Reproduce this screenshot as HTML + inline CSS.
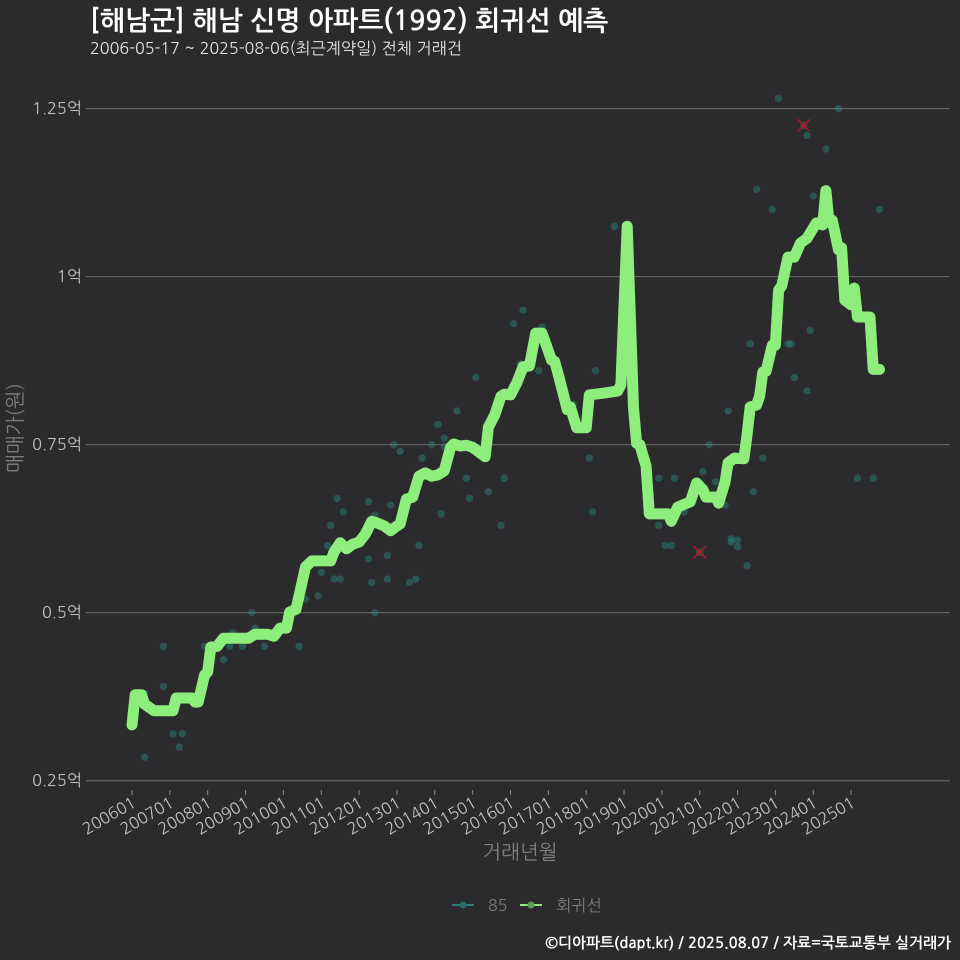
<!DOCTYPE html>
<html lang="ko">
<head>
<meta charset="utf-8">
<title>해남 신명 아파트 회귀선 예측</title>
<style>
html,body{margin:0;padding:0;background:#2b2b2d;}
svg{display:block;font-family:"NanumGothic","Noto Sans CJK KR","Liberation Sans",sans-serif;}
</style>
</head>
<body>
<svg id="chart" xmlns="http://www.w3.org/2000/svg" width="960" height="960" viewBox="0 0 960 960">
  <rect x="0" y="0" width="960" height="960" fill="#2b2b2d"/>
  <text x="90" y="30" font-size="26.75" font-weight="700" fill="#ffffff">[해남군] 해남 신명 아파트(1992) 회귀선 예측</text>
  <text x="90" y="54" font-size="16.15" fill="#e6e6e6">2006-05-17 ~ 2025-08-06(최근계약일) 전체 거래건</text>
  <g id="grid"></g>
  <g id="yLabels"></g>
  <g id="xAxis"></g>
  <g id="points"></g>
  <g id="outliers"></g>
  <path id="regLine" fill="none" stroke="#8dee7c" stroke-width="11" stroke-linejoin="round" stroke-linecap="round"/>
  <text transform="translate(22,428) rotate(-90)" text-anchor="middle" font-size="20" fill="#7f7f7f">매매가(원)</text>
  <text x="520" y="859" text-anchor="middle" font-size="20" fill="#7f7f7f">거래년월</text>
  <g>
    <line x1="452" y1="905" x2="474" y2="905" stroke="#2c7f7a" stroke-width="2"/>
    <circle cx="463" cy="905" r="3.5" fill="#2f6b66"/>
    <text x="488" y="911" font-size="16" fill="#7f7f7f">85</text>
  </g>
  <g>
    <line x1="520" y1="905" x2="542" y2="905" stroke="#8dee7c" stroke-width="2"/>
    <circle cx="531" cy="905" r="3.5" fill="#5f9c57"/>
    <text x="556.5" y="911" font-size="16" fill="#7f7f7f">회귀선</text>
  </g>
  <text x="951" y="948" text-anchor="end" font-size="14.9" font-weight="700" fill="#ffffff">©디아파트(dapt.kr) / 2025.08.07 / 자료=국토교통부 실거래가</text>
</svg>
<script>
const yTicks = [0.25, 0.5, 0.75, 1, 1.25];
const yTickLabels = ["0.25억", "0.5억", "0.75억", "1억", "1.25억"];
const xTickMonths = [0, 12, 24, 36, 48, 60, 72, 84, 96, 108, 120, 132, 144, 156, 168, 180, 192, 204, 216, 228];
const xTickLabels = ["200601", "200701", "200801", "200901", "201001", "201101", "201201", "201301", "201401", "201501", "201601", "201701", "201801", "201901", "202001", "202101", "202201", "202301", "202401", "202501"];

const lineMonths = [0, 1, 3, 4, 7, 13, 14, 19, 20, 21, 23, 24, 25, 27, 29, 37, 39, 43, 45, 47, 49, 50, 52, 55, 57, 63, 64, 66, 68, 70, 72, 74, 76, 78, 80, 82, 84, 85, 87, 89, 91, 93, 95, 97, 99, 101, 102, 104, 106, 108, 110, 112, 113, 115, 117, 118, 120, 122, 124, 126, 128, 130, 133, 134, 135, 138, 139, 141, 144, 145, 150, 154, 155, 157, 159, 160, 161, 163, 164, 170, 171, 173, 174, 177, 179, 181, 182, 185, 186, 188, 189, 191, 194, 195, 196, 198, 199, 200, 201, 203, 204, 205, 206, 208, 210, 212, 214, 217, 219, 220, 221, 222, 224, 225, 226, 228, 229, 230, 234, 235, 237];
const lineValues = [0.333, 0.378, 0.378, 0.364, 0.354, 0.354, 0.373, 0.373, 0.367, 0.367, 0.407, 0.412, 0.449, 0.450, 0.462, 0.462, 0.468, 0.468, 0.465, 0.477, 0.477, 0.501, 0.505, 0.568, 0.577, 0.577, 0.590, 0.604, 0.595, 0.602, 0.605, 0.617, 0.636, 0.633, 0.629, 0.622, 0.629, 0.632, 0.669, 0.672, 0.703, 0.708, 0.703, 0.705, 0.711, 0.746, 0.751, 0.748, 0.749, 0.746, 0.739, 0.732, 0.776, 0.794, 0.822, 0.825, 0.824, 0.842, 0.866, 0.867, 0.916, 0.916, 0.876, 0.874, 0.857, 0.802, 0.806, 0.775, 0.775, 0.824, 0.827, 0.830, 0.839, 1.075, 0.805, 0.752, 0.750, 0.718, 0.647, 0.647, 0.636, 0.657, 0.659, 0.665, 0.693, 0.683, 0.672, 0.672, 0.663, 0.694, 0.723, 0.730, 0.729, 0.764, 0.806, 0.809, 0.822, 0.858, 0.859, 0.898, 0.898, 0.980, 0.986, 1.029, 1.029, 1.050, 1.057, 1.080, 1.077, 1.128, 1.081, 1.084, 1.040, 1.043, 0.965, 0.958, 0.983, 0.940, 0.940, 0.862, 0.862];

const pointMonths = [4, 10, 10, 13, 16, 15, 4, 23, 29, 31, 32, 35, 38, 39, 42, 53, 55, 59, 60, 64, 66, 75, 76, 77, 81, 81, 62, 65, 75, 67, 63, 82, 77, 91, 88, 90, 98, 106, 107, 113, 118, 117, 146, 145, 92, 83, 85, 95, 97, 99, 99, 103, 109, 121, 124, 130, 123, 129, 140, 147, 205, 224, 214, 220, 198, 203, 216, 237, 153, 215, 196, 208, 209, 210, 214, 189, 183, 200, 181, 167, 172, 185, 197, 188, 175, 167, 169, 171, 190, 190, 192, 192, 195, 230, 235, 213, 180];
const pointValues = [0.38, 0.45, 0.39, 0.32, 0.32, 0.30, 0.285, 0.45, 0.43, 0.45, 0.47, 0.45, 0.50, 0.477, 0.45, 0.45, 0.52, 0.525, 0.56, 0.55, 0.55, 0.58, 0.545, 0.50, 0.585, 0.55, 0.60, 0.67, 0.665, 0.65, 0.63, 0.66, 0.645, 0.60, 0.545, 0.55, 0.647, 0.70, 0.67, 0.68, 0.70, 0.63, 0.65, 0.73, 0.73, 0.75, 0.74, 0.75, 0.78, 0.76, 0.747, 0.80, 0.85, 0.93, 0.95, 0.925, 0.87, 0.86, 0.81, 0.86, 1.265, 1.25, 1.21, 1.19, 1.13, 1.10, 1.12, 1.10, 1.075, 0.92, 0.90, 0.90, 0.90, 0.85, 0.83, 0.80, 0.75, 0.73, 0.71, 0.70, 0.70, 0.695, 0.68, 0.66, 0.65, 0.63, 0.60, 0.60, 0.61, 0.605, 0.608, 0.598, 0.57, 0.70, 0.70, 1.225, 0.59];

const outlierMonths = [213, 180];
const outlierValues = [1.225, 0.59];

const SVG_NS = "http://www.w3.org/2000/svg";
function xScale(m) { return 132 + m * 3.154; }
function yScale(v) { return 780.7 - (v - 0.25) * 672.1; }
function svgEl(tag, parent) {
  const el = document.createElementNS(SVG_NS, tag);
  parent.appendChild(el);
  return el;
}

const gridGroup = document.getElementById("grid");
const yLabelGroup = document.getElementById("yLabels");
yTicks.forEach(function (t, i) {
  const line = svgEl("line", gridGroup);
  
  
  line.setAttribute("x1", 86);
  line.setAttribute("x2", 950);
  line.setAttribute("y1", yScale(t));
  line.setAttribute("y2", yScale(t));
  line.setAttribute("stroke", i === 0 ? "#5a5a5a" : "#676767");
  line.setAttribute("stroke-width", i === 0 ? 1.6 : 1.1);
  const label = svgEl("text", yLabelGroup);
  
  
  label.setAttribute("x", 82);
  label.setAttribute("y", yScale(t) + 5.5);
  label.setAttribute("text-anchor", "end");
  label.setAttribute("font-size", 16.3);
  label.setAttribute("fill", "#c4c4c4");
  label.textContent = yTickLabels[i];
});

const xGroup = document.getElementById("xAxis");
xTickMonths.forEach(function (m, i) {
  const tick = svgEl("line", xGroup);
  
  
  tick.setAttribute("x1", xScale(m));
  tick.setAttribute("x2", xScale(m));
  tick.setAttribute("y1", 790);
  tick.setAttribute("y2", 795);
  tick.setAttribute("stroke", "#8a8a8a");
  tick.setAttribute("stroke-width", 1);
  const label = svgEl("text", xGroup);
  
  
  label.setAttribute("transform", "translate(" + (xScale(m) + 5) + ",806) rotate(-30)");
  label.setAttribute("text-anchor", "end");
  label.setAttribute("font-size", 16);
  label.setAttribute("fill", "#c4c4c4");
  label.textContent = xTickLabels[i];
});

const pointGroup = document.getElementById("points");
pointMonths.forEach(function (m, i) {
  const dot = svgEl("circle", pointGroup);
  
  
  dot.setAttribute("cx", xScale(m));
  dot.setAttribute("cy", yScale(pointValues[i]));
  dot.setAttribute("r", 3.7);
  dot.setAttribute("fill", "#2c8a80");
  dot.setAttribute("fill-opacity", 0.45);
});

const outlierGroup = document.getElementById("outliers");
outlierMonths.forEach(function (m, i) {
  const cx = xScale(m);
  const cy = yScale(outlierValues[i]);
  const cross = svgEl("path", outlierGroup);
  
  
  cross.setAttribute("d", "M" + (cx - 6) + " " + (cy - 6) + "L" + (cx + 6) + " " + (cy + 6) + "M" + (cx + 6) + " " + (cy - 6) + "L" + (cx - 6) + " " + (cy + 6));
  cross.setAttribute("stroke", "#a81c28");
  cross.setAttribute("stroke-width", 1.5);
  cross.setAttribute("fill", "none");
  const core = svgEl("circle", outlierGroup);
  
  
  core.setAttribute("cx", cx);
  core.setAttribute("cy", cy);
  core.setAttribute("r", 3);
  core.setAttribute("fill", "#a81c28");
  core.setAttribute("fill-opacity", 0.6);
});

document.getElementById("regLine").setAttribute("d", lineMonths.map(function (m, i) {
  return (i ? "L" : "M") + xScale(m).toFixed(1) + " " + yScale(lineValues[i]).toFixed(1);
}).join(""));
</script>
</body>
</html>
